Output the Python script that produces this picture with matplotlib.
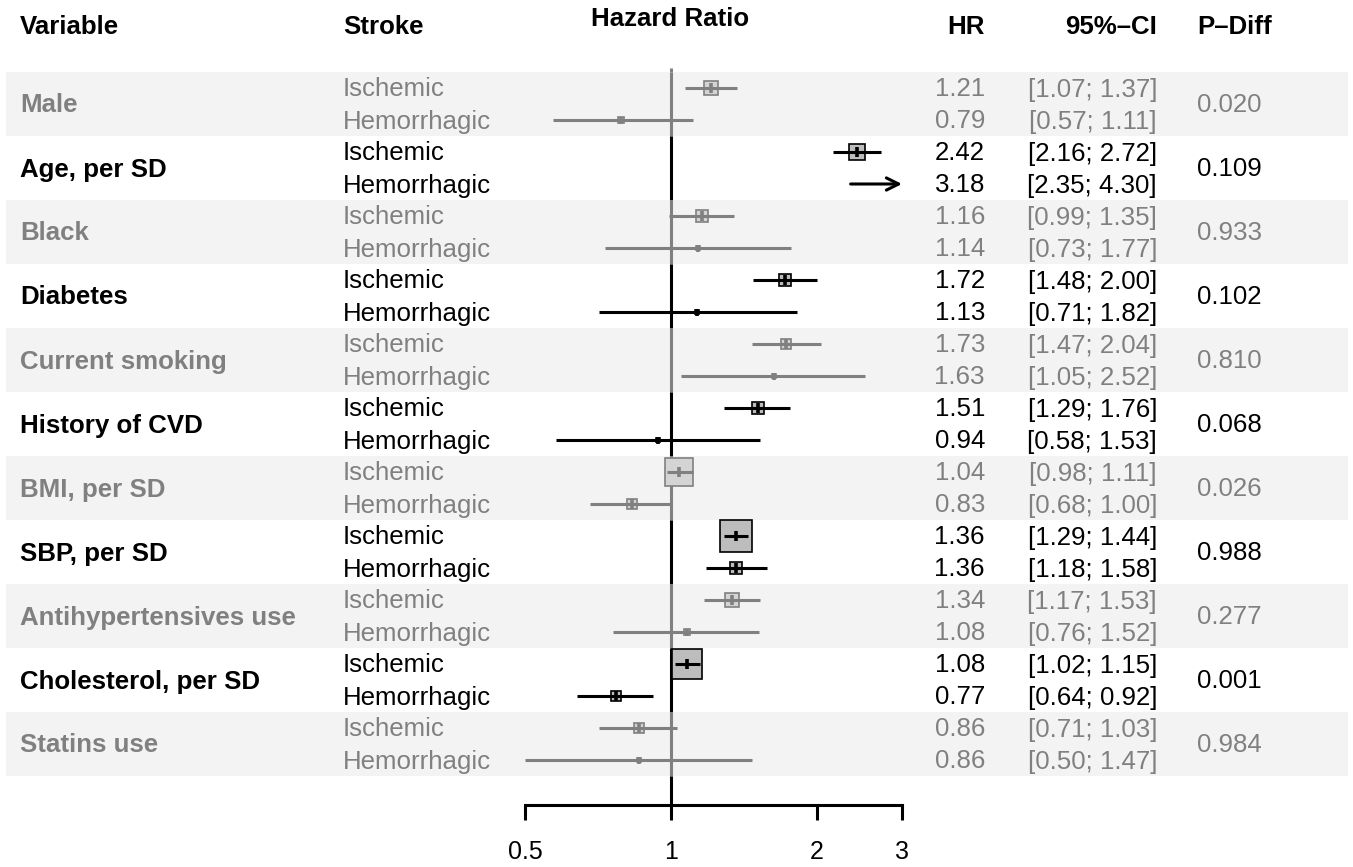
import numpy as np
import matplotlib
matplotlib.use("Agg")
import matplotlib.pyplot as plt
from matplotlib.ticker import NullLocator, FixedLocator, FixedFormatter

plt.rcParams['font.family'] = ['Liberation Sans', 'DejaVu Sans']

# ---------------- data ----------------
variables = ["Male", "Age, per SD", "Black", "Diabetes", "Current smoking",
             "History of CVD", "BMI, per SD", "SBP, per SD",
             "Antihypertensives use", "Cholesterol, per SD", "Statins use"]
strokes = ["Ischemic", "Hemorrhagic"]

hr_isch = [1.21, 2.42, 1.16, 1.72, 1.73, 1.51, 1.04, 1.36, 1.34, 1.08, 0.86]
lo_isch = [1.07, 2.16, 0.99, 1.48, 1.47, 1.29, 0.98, 1.29, 1.17, 1.02, 0.71]
hi_isch = [1.37, 2.72, 1.35, 2.00, 2.04, 1.76, 1.11, 1.44, 1.53, 1.15, 1.03]

hr_hem = [0.79, 3.18, 1.14, 1.13, 1.63, 0.94, 0.83, 1.36, 1.08, 0.77, 0.86]
lo_hem = [0.57, 2.35, 0.73, 0.71, 1.05, 0.58, 0.68, 1.18, 0.76, 0.64, 0.50]
hi_hem = [1.11, 4.30, 1.77, 1.82, 2.52, 1.53, 1.00, 1.58, 1.52, 0.92, 1.47]

p_diff = ["0.020", "0.109", "0.933", "0.102", "0.810", "0.068", "0.026",
          "0.988", "0.277", "0.001", "0.984"]

xticks = [0.5, 1, 2, 3]
xticklabels = ["0.5", "1", "2", "3"]

# ---------------- layout ----------------
W, H = 1353, 867
ROW0, ROWH = 88, 32
XMIN, XMAX = 0.5, 3.0
FX0, FX1 = 525, 902
AXIS_Y = 805
FS = 18.6
GREY = "#808080"
BAND = "#f3f3f3"
BASE = 8.5  # baseline offset below row centre (px)

fig = plt.figure(figsize=(W / 100, H / 100), dpi=100)
bg = fig.add_axes([0, 0, 1, 1])
bg.set_xlim(0, W)
bg.set_ylim(H, 0)
bg.axis("off")

fa = fig.add_axes([FX0 / W, (H - AXIS_Y) / H, (FX1 - FX0) / W, AXIS_Y / H])
fa.set_facecolor("none")
fa.set_xscale("log")
fa.set_xlim(XMIN, XMAX)
fa.set_ylim(AXIS_Y, 0)
for s in ["top", "left", "right"]:
    fa.spines[s].set_visible(False)
fa.spines["bottom"].set_linewidth(2.2)
fa.xaxis.set_major_locator(FixedLocator(xticks))
fa.xaxis.set_major_formatter(FixedFormatter(xticklabels))
fa.xaxis.set_minor_locator(NullLocator())
fa.tick_params(axis="x", length=11, width=2.2, pad=14, labelsize=18)
fa.set_yticks([])


def txt(x, y, s, **kw):
    bg.text(x, y + BASE, s, fontsize=FS, va="baseline", **kw)


# headers
txt(20, 26, "Variable", fontweight="bold", ha="left")
txt(343, 26, "Stroke", fontweight="bold", ha="left")
txt(670, 18, "Hazard Ratio", fontweight="bold", ha="center")
txt(985, 26, "HR", fontweight="bold", ha="right")
txt(1157, 26, "95%\u2013CI", fontweight="bold", ha="right")
txt(1197, 26, "P\u2013Diff", fontweight="bold", ha="left")

K = 3.6  # px * log-width factor for box size
LW = 2.2

# reference line top part
band_top0 = ROW0 - ROWH / 2
fa.plot([1, 1], [band_top0 - 4, band_top0], color=GREY, lw=LW, solid_capstyle="butt", zorder=2)

for g, var in enumerate(variables):
    col = GREY if g % 2 == 0 else "black"
    fill = "#d4d4d4" if g % 2 == 0 else "#bdbdbd"
    top = band_top0 + g * 2 * ROWH
    bot = top + 2 * ROWH
    if g % 2 == 0:
        bg.add_patch(plt.Rectangle((6, top), 1342, 2 * ROWH, color=BAND, lw=0, zorder=0))
    fa.plot([1, 1], [top, bot], color=col, lw=LW, solid_capstyle="butt", zorder=2)
    yc = (top + bot) / 2
    txt(20, yc, var, fontweight="bold", color=col, ha="left")
    txt(1197, yc, p_diff[g], color=col, ha="left")

    rows = [(hr_isch[g], lo_isch[g], hi_isch[g]), (hr_hem[g], lo_hem[g], hi_hem[g])]
    for j, (est, lo, hi) in enumerate(rows):
        y = ROW0 + (2 * g + j) * ROWH
        txt(343, y, strokes[j], color=col, ha="left")
        txt(985, y, f"{est:.2f}", color=col, ha="right")
        txt(1157, y, f"[{lo:.2f}; {hi:.2f}]", color=col, ha="right")

        side_px = K / (np.log(hi) - np.log(lo))
        if hi > XMAX:
            fa.annotate("", xy=(XMAX, y), xytext=(lo, y),
                        arrowprops=dict(arrowstyle="->", lw=LW, color=col,
                                        mutation_scale=22, shrinkA=0, shrinkB=0),
                        annotation_clip=False, zorder=4)
        else:
            fa.plot([lo, hi], [y, y], color=col, lw=LW, solid_capstyle="butt",
                    zorder=4, clip_on=False)
        if XMIN <= est <= XMAX:
            fa.plot([est], [y], marker="s", ms=side_px * 0.72, mfc=fill,
                    mec=col, mew=1.2, zorder=3, clip_on=False)
            tick = max(min(side_px, 10), 7)
            fa.plot([est], [y], marker="|", ms=tick * 0.72, mew=2.6,
                    color=col, zorder=5, clip_on=False)

# reference line bottom part
last_bot = band_top0 + len(variables) * 2 * ROWH
fa.plot([1, 1], [last_bot, AXIS_Y], color="black", lw=LW, solid_capstyle="butt", zorder=2)

fig.savefig("out.png", dpi=100)
